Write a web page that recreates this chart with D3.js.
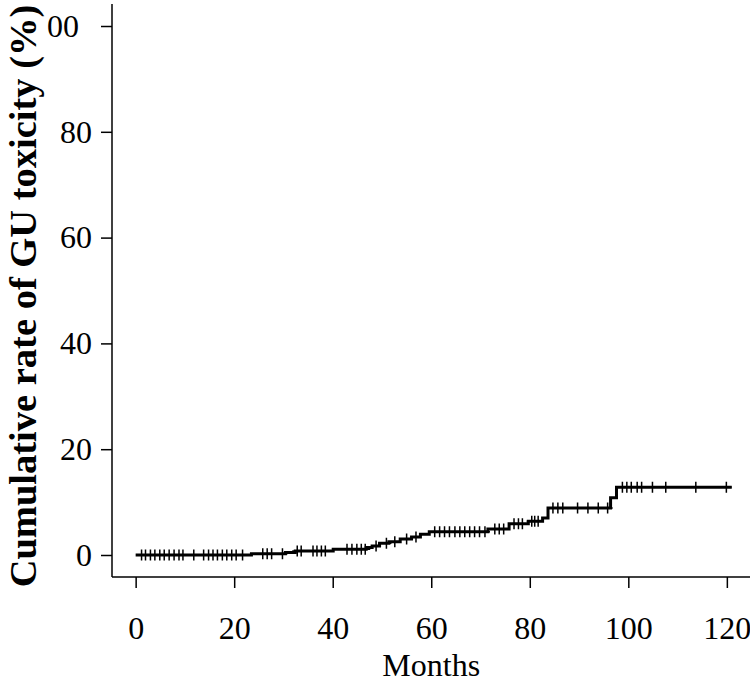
<!DOCTYPE html>
<html>
<head>
<meta charset="utf-8">
<script src="https://cdn.jsdelivr.net/npm/d3@7"></script>
<style>
  body { margin: 0; background: #fff; }
  svg { display: block; font-family: "Liberation Serif", "Times New Roman", serif; }
</style>
</head>
<body>
<svg id="chart" width="750" height="682"></svg>
<script>
// step times (months) and cumulative rate (%) right after each step
const stepTimes = [0, 23.5, 30.4, 32.4, 40.1, 46.8, 48.0, 49.5, 51.4, 53.7, 56.0, 57.8, 59.6, 71.5, 75.8, 79.7, 82.6, 83.7, 96.4, 97.6, 121];
const stepRates = [0, 0.25, 0.45, 0.75, 1.1, 1.4, 1.7, 2.2, 2.5, 3.0, 3.4, 3.9, 4.4, 4.9, 5.9, 6.4, 7.0, 8.9, 10.8, 12.8, 12.8];

// censored observations (months)
const censorTimes = [1.2, 2.0, 3.0, 3.9, 4.9, 5.8, 6.8, 7.8, 8.8, 9.6, 11.8,
  13.8, 14.8, 15.7, 16.6, 17.6, 18.5, 19.5, 20.4, 21.7,
  25.8, 26.7, 27.6, 29.8, 32.8, 33.6, 36.0, 36.8, 37.7, 38.5,
  42.9, 43.9, 44.9, 45.8, 46.6, 48.8, 50.9, 52.6, 55.0, 56.9,
  60.7, 61.7, 62.7, 63.7, 64.8, 65.8, 66.8, 67.8, 68.8, 69.8, 70.9,
  72.9, 73.8, 74.7, 76.8, 77.7, 78.5, 80.4, 81.0, 81.7,
  84.7, 85.7, 86.7, 89.7, 91.8, 93.9, 95.8,
  98.8, 99.7, 100.6, 101.8, 102.7, 104.9, 107.6, 113.7, 119.9];

const xTicks = [0, 20, 40, 60, 80, 100, 120];
const yTicks = [0, 20, 40, 60, 80, 100];
const yTickLabels = ["0", "20", "40", "60", "80", "00"]; // the "1" is lost in the original image

const svg = d3.select("#chart");

// R style: 4% padding on each side of the data range
const x = d3.scaleLinear().domain([-4.8, 124.8]).range([112, 750.5]);
const y = d3.scaleLinear().domain([-4.16, 104.16]).range([577, 4]);

// axis lines (L shaped box)
svg.append("line")
  .attr("x1", x(-4.8)).attr("x2", x(-4.8))
  .attr("y1", y(104.16)).attr("y2", y(-4.16))
  .attr("stroke", "#000").attr("stroke-width", 1.5);
svg.append("line")
  .attr("x1", x(-4.8)).attr("x2", x(124.8))
  .attr("y1", y(-4.16)).attr("y2", y(-4.16))
  .attr("stroke", "#000").attr("stroke-width", 1.5);

// bottom axis
const xAxis = d3.axisBottom(x).tickValues(xTicks).tickSize(11).tickPadding(28);
const gx = svg.append("g")
  .attr("transform", "translate(0," + y(-4.16) + ")")
  .call(xAxis);
gx.select(".domain").remove();
gx.selectAll(".tick line").attr("stroke-width", 1.5);
gx.selectAll(".tick text")
  .attr("font-size", 32)
  .attr("font-family", "Liberation Serif")
  .attr("fill", "#000");

// left axis
const yAxis = d3.axisLeft(y).tickValues(yTicks).tickSize(11)
  .tickPadding(9)
  .tickFormat(function(d, i) { return yTickLabels[i]; });
const gy = svg.append("g")
  .attr("transform", "translate(" + x(-4.8) + ",0)")
  .call(yAxis);
gy.select(".domain").remove();
gy.selectAll(".tick line").attr("stroke-width", 1.5);
gy.selectAll(".tick text")
  .attr("font-size", 32)
  .attr("font-family", "Liberation Serif")
  .attr("fill", "#000")
  .attr("dx", function(d) { return d === 100 ? -13 : 0; });

// axis titles
svg.append("text")
  .attr("x", (x(-4.8) + x(124.8)) / 2)
  .attr("y", 676)
  .attr("text-anchor", "middle")
  .attr("font-size", 32)
  .text("Months");

svg.append("text")
  .attr("transform", "translate(36," + 296 + ") rotate(-90)")
  .attr("text-anchor", "middle")
  .attr("font-size", 38.5)
  .attr("font-weight", "bold")
  .text("Cumulative rate of GU toxicity (%)");

// step curve
const pts = stepTimes.map(function(t, i) { return [t, stepRates[i]]; });
const line = d3.line()
  .x(function(d) { return x(d[0]); })
  .y(function(d) { return y(d[1]); })
  .curve(d3.curveStepAfter);

svg.append("path")
  .datum(pts)
  .attr("d", line)
  .attr("fill", "none")
  .attr("stroke", "#000")
  .attr("stroke-width", 3);

// rate at a given time, for placing censor marks
function rateAt(t) {
  let r = 0;
  for (let i = 0; i < stepTimes.length; i++) {
    if (stepTimes[i] <= t) r = stepRates[i];
  }
  return r;
}

// censor marks ("+")
svg.append("g")
  .selectAll("path")
  .data(censorTimes)
  .enter()
  .append("path")
  .attr("d", function(d) {
    const cx = x(d), cy = y(rateAt(d));
    return "M" + (cx - 5) + "," + cy + "H" + (cx + 5) + "M" + cx + "," + (cy - 5.5) + "V" + (cy + 5.5);
  })
  .attr("stroke", "#000")
  .attr("stroke-width", 1.5)
  .attr("fill", "none");
</script>
</body>
</html>
